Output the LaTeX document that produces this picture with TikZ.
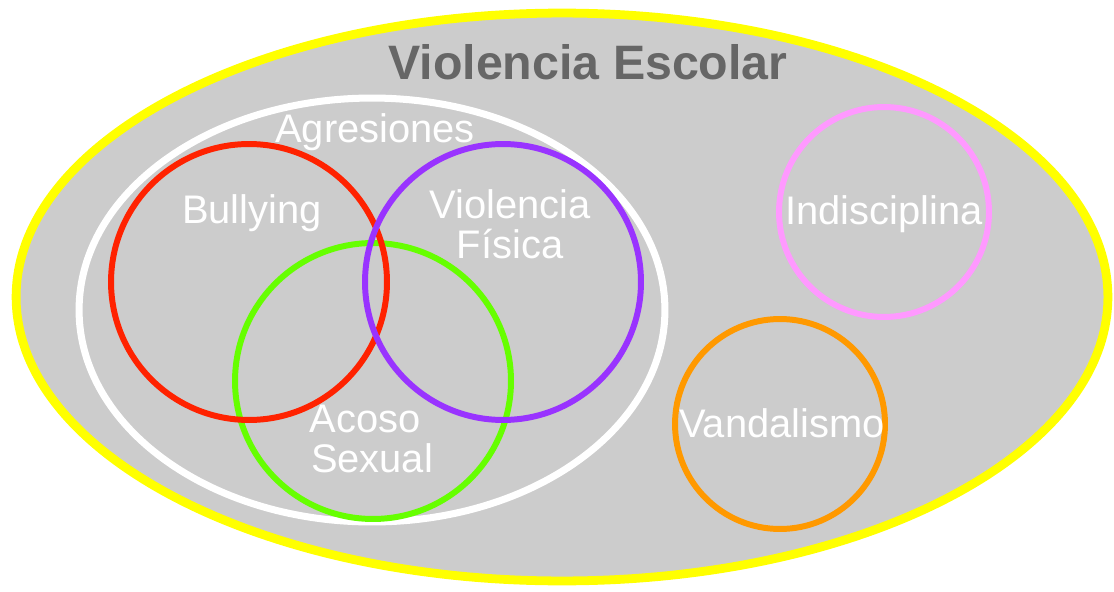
\documentclass[tikz,border=0pt]{standalone}
\usepackage{fontspec}
\setmainfont{Liberation Sans}
\usetikzlibrary{shapes.geometric}

\definecolor{amarillo}{HTML}{FFFF00}
\definecolor{fondo}{HTML}{CCCCCC}
\definecolor{rojo}{HTML}{FF2200}
\definecolor{morado}{HTML}{9933FF}
\definecolor{verde}{HTML}{66FF00}
\definecolor{rosa}{HTML}{FF99FF}
\definecolor{naranja}{HTML}{FF9900}
\definecolor{titulo}{HTML}{666666}

\tikzset{
  anillo/.style={circle,line width=3.4pt,inner sep=0pt},
  etiqueta/.style={anchor=base,text=white,inner sep=0pt,
    font=\fontsize{22.7}{27}\selectfont}
}

\begin{document}
\begin{tikzpicture}[x=0.02cm,y=-0.02cm]
  \useasboundingbox (0,0) rectangle (1114,591);

  \node[ellipse,draw=amarillo,fill=fondo,line width=5pt,inner sep=0pt,
    minimum width=21.84cm,minimum height=11.36cm] (escolar) at (562,297) {};
  \node[ellipse,draw=white,line width=4pt,inner sep=0pt,
    minimum width=11.72cm,minimum height=8.48cm] (agresiones) at (372,310) {};

  \begin{scope}[every node/.style={anillo,minimum size=5.52cm}]
    \node[draw=verde] (acoso) at (373,381) {};
    \node[draw=rojo] (bullying) at (249,282) {};
    \node[draw=morado] (fisica) at (503,282) {};
  \end{scope}
  \begin{scope}[every node/.style={anillo,minimum size=4.2cm}]
    \node[draw=rosa] (indisciplina) at (884,212) {};
    \node[draw=naranja] (vandalismo) at (780,424) {};
  \end{scope}

  \node[anchor=base,inner sep=0pt,text=titulo,
    font=\fontsize{27.5}{32}\selectfont\bfseries] (tescolar) at (588,80) {Violencia Escolar};
  \node[etiqueta] (tagresiones) at (375,143) {Agresiones};
  \node[etiqueta] (tbullying) at (252,223) {Bullying};
  \node[etiqueta] (tviolencia) at (510,218) {Violencia};
  \node[etiqueta] (tfisica) at (510,258) {Física};
  \node[etiqueta] (tacoso) at (365,432) {Acoso};
  \node[etiqueta] (tsexual) at (372,472) {Sexual};
  \node[etiqueta] (tindisciplina) at (884,224) {Indisciplina};
  \node[etiqueta] (tvandalismo) at (782,437) {Vandalismo};
\end{tikzpicture}
\end{document}
